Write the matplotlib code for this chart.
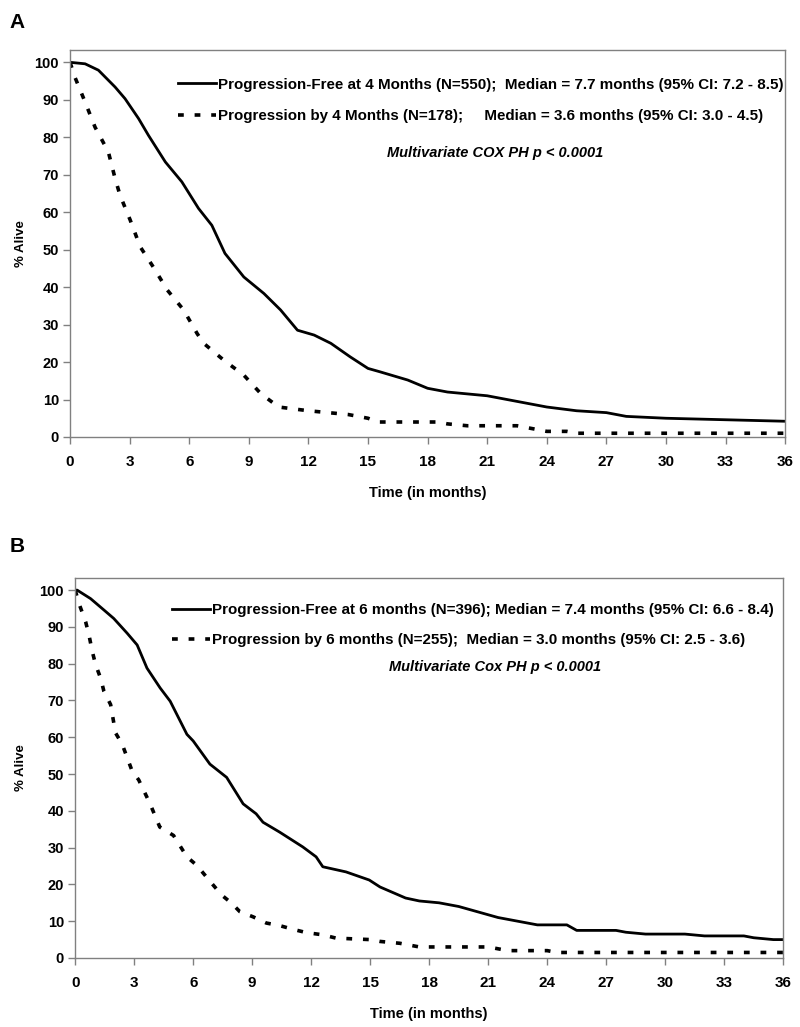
import matplotlib
matplotlib.use("Agg")
import matplotlib.pyplot as plt
import numpy as np

plt.rcParams['font.family'] = ['Liberation Sans', 'DejaVu Sans']
plt.rcParams['font.weight'] = 'bold'

# ---- Panel A data ----
a_pf_t = [0, 0.76, 1.43, 2.27, 2.77, 3.45, 3.95, 4.8, 5.63, 6.47, 7.14, 7.8, 8.75, 9.76, 10.6,
          11.45, 12.29, 13.13, 14.1, 15.0, 15.6, 17.0, 18.0, 19.0, 21.0, 22.5, 24.0, 25.5, 27.0,
          28.0, 30.0, 31.5, 33.0, 34.5, 36.0]
a_pf_v = [100, 99.6, 97.9, 93.4, 90.3, 85, 80.5, 73.4, 68.1, 61, 56.5, 49, 42.7, 38.3, 33.9,
          28.5, 27.2, 25, 21.4, 18.3, 17.4, 15.2, 13, 12, 11, 9.5, 8, 7, 6.5, 5.5, 5, 4.8, 4.6,
          4.4, 4.2]

a_pr_t = [0, 0.25, 0.76, 1.26, 1.93, 2.27, 2.52, 3.03, 3.53, 4.2, 4.9, 5.72, 6.4, 6.73, 7.74,
          8.75, 9.6, 10.5, 12.0, 13.0, 14.0, 15.0, 15.5, 18.5, 19.0, 20.0, 22.5, 23.5, 24.0, 25.0,
          25.5, 36.0]
a_pr_v = [100, 96, 89.4, 82.7, 76.1, 69, 64.5, 57.9, 50.8, 45.3, 39.2, 33.9, 27.6, 25, 20.5,
          16.5, 11.6, 8, 7, 6.5, 6, 5, 4, 4, 3.5, 3, 3, 2, 1.5, 1.5, 1, 1]

# ---- Panel B data ----
b_pf_t = [0, 0.1, 0.78, 1.46, 1.96, 2.64, 3.15, 3.65, 4.32, 4.83, 5.68, 6.0, 6.85, 7.7, 8.54,
          9.2, 9.55, 10.4, 11.57, 12.25, 12.59, 13.77, 14.95, 15.5, 16.8, 17.5, 18.5, 19.5, 20.5,
          21.5, 22.5, 23.5, 25.0, 25.5, 27.5, 28.0, 29.0, 31.0, 32.0, 34.0, 34.5, 35.5, 36.0]
b_pf_v = [100, 100, 97.7, 94.6, 92.3, 88.3, 85.1, 78.8, 73.4, 69.8, 60.8, 59, 52.7, 49.1, 41.9,
          39.2, 36.9, 34.2, 30.2, 27.5, 24.8, 23.4, 21.2, 19.3, 16.3, 15.5, 15, 14, 12.5, 11, 10,
          9, 9, 7.5, 7.5, 7, 6.5, 6.5, 6, 6, 5.5, 5, 5]

b_pr_t = [0, 0.19, 0.53, 0.7, 0.87, 1.04, 1.29, 1.46, 1.8, 2.05, 2.39, 2.64, 2.89, 3.23, 3.8,
          4.3, 5.0, 5.68, 6.18, 7.02, 7.45, 7.95, 8.37, 9.04, 9.72, 10.4, 11.07, 11.75, 12.59,
          13.26, 15.0, 15.5, 16.5, 17.5, 21.0, 21.5, 22.0, 24.0, 24.5, 36.0]
b_pr_v = [100, 96.4, 91.4, 87.8, 83.3, 79.7, 76.1, 72.5, 68.9, 61.2, 58.1, 54.5, 50.9, 48.4, 42,
          35.6, 33.3, 27.5, 25.2, 19.8, 17.1, 14.9, 12.6, 11.2, 9.5, 8.8, 7.8, 6.9, 6.3, 5.4, 5,
          4.5, 4, 3, 3, 2.5, 2, 2, 1.5, 1.5]

a_labels = ["Progression-Free at 4 Months (N=550);  Median = 7.7 months (95% CI: 7.2 - 8.5)",
            "Progression by 4 Months (N=178);     Median = 3.6 months (95% CI: 3.0 - 4.5)"]
b_labels = ["Progression-Free at 6 months (N=396); Median = 7.4 months (95% CI: 6.6 - 8.4)",
            "Progression by 6 months (N=255);  Median = 3.0 months (95% CI: 2.5 - 3.6)"]

xticks = np.arange(0, 37, 3)
yticks = np.arange(0, 101, 10)

fig = plt.figure(figsize=(8, 10.27), dpi=100, facecolor='white')
ax_a = fig.add_axes([0.0875, 0.5745, 0.894, 0.3765])
ax_b = fig.add_axes([0.094, 0.0672, 0.885, 0.370])

dash = (0, (1.6, 3.0))


def style_axes(ax, ytop, ylabpad):
    ax.set_xlim(0, 36)
    ax.set_ylim(0, ytop)
    ax.set_xticks(xticks)
    ax.set_yticks(yticks)
    for s in ax.spines.values():
        s.set_color('#808080')
        s.set_linewidth(1.0)
    ax.tick_params(axis='both', color='#808080', length=5, width=1, direction='out')
    ax.tick_params(axis='y', labelsize=10.5, pad=3)
    ax.tick_params(axis='x', labelsize=11, pad=8)
    ax.set_ylabel('% Alive', fontsize=9.5, fontweight='bold', labelpad=ylabpad)
    ax.set_xlabel('Time (in months)', fontsize=10.5, fontweight='bold', labelpad=12)


# Panel A
ax_a.plot(a_pf_t, a_pf_v, color='black', lw=2.0, label=a_labels[0])
ax_a.plot(a_pr_t, a_pr_v, color='black', lw=2.6, linestyle=dash, label=a_labels[1])
style_axes(ax_a, 103.2, 5)
ax_a.legend(loc='upper left', bbox_to_anchor=(0.151, 0.929), frameon=False,
            borderpad=0, borderaxespad=0, handlelength=2.5, handletextpad=0.15,
            labelspacing=1.17, prop={'weight': 'bold', 'size': 10.9})
ax_a.text(0.594, 0.734, 'Multivariate COX PH p < 0.0001', transform=ax_a.transAxes,
          ha='center', va='center', fontsize=10.5, fontweight='bold', style='italic')

# Panel B
ax_b.plot(b_pf_t, b_pf_v, color='black', lw=2.0, label=b_labels[0])
ax_b.plot(b_pr_t, b_pr_v, color='black', lw=2.6, linestyle=dash, label=b_labels[1])
style_axes(ax_b, 103.3, 9)
ax_b.legend(loc='upper left', bbox_to_anchor=(0.137, 0.934), frameon=False,
            borderpad=0, borderaxespad=0, handlelength=2.5, handletextpad=0.15,
            labelspacing=1.04, prop={'weight': 'bold', 'size': 10.9})
ax_b.text(0.593, 0.766, 'Multivariate Cox PH p < 0.0001', transform=ax_b.transAxes,
          ha='center', va='center', fontsize=10.5, fontweight='bold', style='italic')

fig.text(0.012, 0.978, 'A', fontsize=15, fontweight='bold', va='center', ha='left')
fig.text(0.012, 0.468, 'B', fontsize=15, fontweight='bold', va='center', ha='left')

fig.savefig('out.png', dpi=100, facecolor='white')
